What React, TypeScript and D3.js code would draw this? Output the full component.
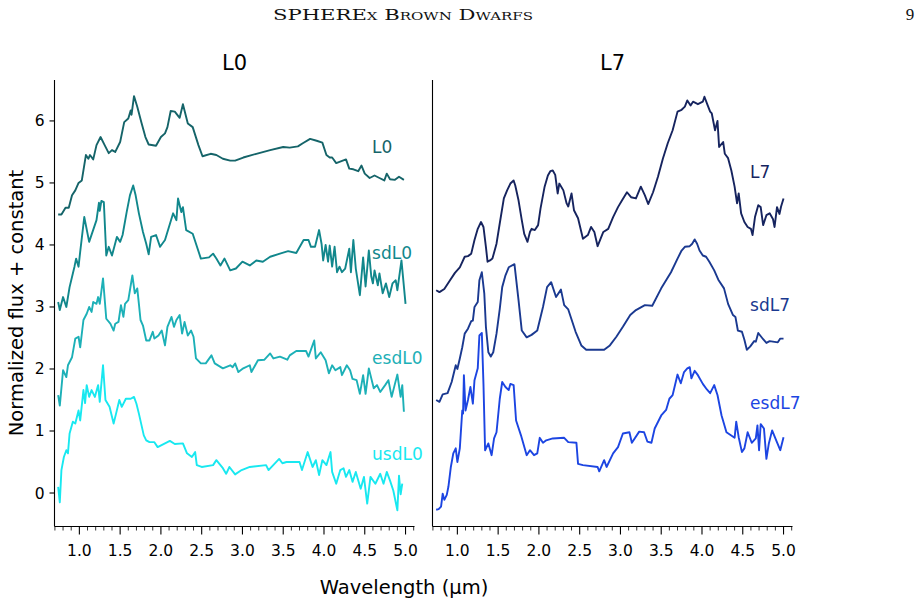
import React from "react";
import * as d3 from "d3";

// Spectra: [wavelength (µm), normalized flux + offset]
const L0: [number, number][] = [[0.74,4.49],[0.78,4.49],[0.83,4.6],[0.87,4.6],[0.91,4.8],[0.95,4.88],[0.99,5.0],[1.03,5.04],[1.08,5.45],[1.11,5.39],[1.13,5.45],[1.17,5.38],[1.21,5.61],[1.26,5.74],[1.31,5.61],[1.36,5.48],[1.4,5.53],[1.44,5.5],[1.5,5.66],[1.55,5.98],[1.6,6.04],[1.63,6.17],[1.64,6.1],[1.67,6.4],[1.71,6.23],[1.76,5.98],[1.81,5.74],[1.85,5.62],[1.94,5.6],[2.0,5.74],[2.05,5.8],[2.08,5.9],[2.12,6.16],[2.17,6.15],[2.23,6.05],[2.27,6.27],[2.33,5.96],[2.39,5.9],[2.46,5.61],[2.51,5.43],[2.61,5.47],[2.68,5.45],[2.76,5.39],[2.85,5.36],[2.91,5.36],[3.01,5.41],[3.17,5.47],[3.34,5.53],[3.5,5.58],[3.58,5.57],[3.68,5.59],[3.74,5.64],[3.83,5.71],[3.91,5.68],[3.98,5.65],[4.03,5.45],[4.07,5.41],[4.1,5.41],[4.15,5.32],[4.19,5.34],[4.27,5.38],[4.31,5.23],[4.36,5.22],[4.42,5.19],[4.46,5.28],[4.5,5.15],[4.56,5.08],[4.62,5.12],[4.68,5.08],[4.74,5.04],[4.77,5.15],[4.81,5.06],[4.87,5.05],[4.92,5.1],[4.98,5.05]];

const sdL0: [number, number][] = [[0.74,3.08],[0.76,2.95],[0.8,3.16],[0.84,3.0],[0.88,3.32],[0.92,3.54],[0.94,3.65],[0.96,3.78],[0.99,3.65],[1.01,3.89],[1.06,4.45],[1.12,4.05],[1.21,4.4],[1.24,4.68],[1.25,4.55],[1.27,4.71],[1.3,4.69],[1.33,3.83],[1.36,3.97],[1.4,3.83],[1.46,4.13],[1.5,4.05],[1.53,4.16],[1.58,4.53],[1.62,4.8],[1.66,4.96],[1.69,4.8],[1.73,4.51],[1.78,4.21],[1.82,4.02],[1.85,3.85],[1.88,4.13],[1.94,4.16],[1.99,3.97],[2.05,4.08],[2.15,4.51],[2.19,4.4],[2.21,4.75],[2.25,4.53],[2.27,4.61],[2.31,4.24],[2.39,4.18],[2.49,3.78],[2.59,3.8],[2.64,3.86],[2.68,3.78],[2.73,3.67],[2.78,3.78],[2.85,3.59],[2.92,3.62],[3.0,3.73],[3.09,3.67],[3.17,3.75],[3.25,3.73],[3.34,3.81],[3.46,3.86],[3.56,3.9],[3.66,3.87],[3.75,4.08],[3.81,4.08],[3.84,3.97],[3.89,3.97],[3.94,4.24],[3.97,4.02],[3.99,3.75],[4.02,4.0],[4.05,3.73],[4.07,3.99],[4.1,3.65],[4.13,3.97],[4.16,3.56],[4.19,3.65],[4.22,3.56],[4.26,3.62],[4.31,3.94],[4.33,3.56],[4.36,4.08],[4.39,3.62],[4.44,3.19],[4.48,3.8],[4.51,3.33],[4.55,3.91],[4.58,3.49],[4.6,3.38],[4.62,3.59],[4.66,3.35],[4.68,3.54],[4.72,3.22],[4.76,3.38],[4.8,3.16],[4.84,3.38],[4.88,3.43],[4.9,3.27],[4.95,3.75],[5.0,3.05]];

const esdL0: [number, number][] = [[0.74,1.58],[0.76,1.41],[0.8,1.98],[0.84,1.87],[0.86,2.06],[0.91,2.19],[0.95,2.49],[0.99,2.52],[1.01,2.35],[1.05,2.79],[1.09,2.89],[1.12,3.0],[1.15,2.92],[1.17,3.08],[1.21,3.05],[1.23,3.16],[1.25,3.05],[1.29,3.46],[1.33,2.81],[1.38,2.73],[1.42,2.62],[1.44,2.73],[1.48,2.76],[1.51,3.03],[1.54,2.84],[1.56,3.05],[1.6,3.11],[1.62,3.27],[1.65,3.51],[1.68,3.22],[1.71,3.3],[1.73,3.05],[1.75,2.79],[1.78,2.7],[1.82,2.46],[1.86,2.46],[1.9,2.6],[1.92,2.49],[1.97,2.54],[2.01,2.62],[2.05,2.38],[2.08,2.68],[2.13,2.84],[2.16,2.68],[2.19,2.79],[2.23,2.87],[2.26,2.57],[2.29,2.76],[2.33,2.54],[2.37,2.62],[2.4,2.52],[2.43,2.17],[2.49,2.09],[2.55,2.09],[2.62,2.22],[2.66,2.09],[2.76,2.01],[2.85,2.06],[2.88,2.03],[2.91,2.09],[2.95,1.95],[3.01,2.01],[3.09,2.06],[3.11,1.95],[3.19,2.14],[3.27,2.15],[3.34,2.25],[3.38,2.17],[3.46,2.2],[3.55,2.15],[3.58,2.22],[3.66,2.29],[3.78,2.29],[3.81,2.2],[3.88,2.46],[3.9,2.17],[3.96,2.27],[4.02,2.14],[4.06,1.93],[4.1,2.06],[4.14,1.98],[4.2,2.03],[4.22,1.9],[4.28,2.06],[4.32,1.98],[4.35,1.84],[4.4,1.82],[4.44,1.6],[4.48,1.9],[4.51,1.6],[4.55,2.01],[4.61,1.69],[4.65,1.74],[4.69,1.63],[4.75,1.74],[4.79,1.82],[4.83,1.55],[4.87,1.76],[4.9,1.91],[4.94,1.55],[4.96,1.74],[4.98,1.31]];

const usdL0: [number, number][] = [[0.74,0.1],[0.76,-0.15],[0.78,0.37],[0.81,0.58],[0.84,0.69],[0.86,0.64],[0.88,0.96],[0.92,1.15],[0.95,1.12],[0.99,1.33],[1.01,1.17],[1.05,1.66],[1.07,1.45],[1.09,1.74],[1.12,1.55],[1.15,1.66],[1.19,1.55],[1.23,1.74],[1.25,1.47],[1.29,2.06],[1.32,1.5],[1.37,1.39],[1.42,1.12],[1.45,1.28],[1.49,1.5],[1.52,1.39],[1.57,1.52],[1.63,1.52],[1.67,1.55],[1.7,1.44],[1.73,1.28],[1.79,0.93],[1.82,0.85],[1.86,0.82],[1.92,0.82],[1.96,0.74],[2.11,0.84],[2.17,0.79],[2.27,0.8],[2.32,0.64],[2.38,0.58],[2.42,0.66],[2.44,0.45],[2.5,0.42],[2.64,0.45],[2.68,0.53],[2.76,0.4],[2.8,0.31],[2.84,0.42],[2.91,0.3],[2.99,0.37],[3.09,0.42],[3.29,0.45],[3.32,0.37],[3.45,0.55],[3.49,0.48],[3.54,0.5],[3.7,0.5],[3.73,0.37],[3.8,0.66],[3.86,0.42],[3.9,0.53],[3.94,0.29],[3.98,0.53],[4.03,0.45],[4.08,0.66],[4.1,0.34],[4.15,0.15],[4.2,0.37],[4.24,0.4],[4.27,0.26],[4.31,0.37],[4.35,0.18],[4.39,0.34],[4.45,0.07],[4.49,0.26],[4.53,-0.17],[4.57,0.26],[4.63,0.15],[4.69,0.31],[4.73,0.15],[4.77,0.34],[4.81,0.2],[4.85,0.04],[4.9,-0.28],[4.92,0.28],[4.94,-0.02],[4.96,0.15]];

const L7: [number, number][] = [[0.74,3.27],[0.78,3.24],[0.84,3.29],[0.91,3.43],[0.97,3.55],[1.03,3.64],[1.09,3.81],[1.13,3.82],[1.17,3.86],[1.21,4.08],[1.25,4.26],[1.29,4.37],[1.32,4.29],[1.35,3.97],[1.37,3.73],[1.4,3.75],[1.43,3.78],[1.48,4.02],[1.52,4.35],[1.57,4.75],[1.61,4.88],[1.65,4.99],[1.69,5.04],[1.71,4.96],[1.75,4.72],[1.79,4.4],[1.82,4.18],[1.86,4.05],[1.89,4.21],[1.91,4.26],[1.95,4.24],[1.99,4.32],[2.02,4.59],[2.07,4.94],[2.11,5.12],[2.14,5.19],[2.17,5.2],[2.2,5.13],[2.23,4.83],[2.25,4.99],[2.3,4.88],[2.34,4.67],[2.36,4.62],[2.4,4.83],[2.43,4.56],[2.48,4.43],[2.54,4.1],[2.6,4.16],[2.64,4.29],[2.68,4.21],[2.72,3.98],[2.79,4.21],[2.85,4.26],[2.91,4.45],[2.97,4.61],[3.02,4.72],[3.08,4.85],[3.13,4.77],[3.19,4.75],[3.25,4.94],[3.3,4.8],[3.34,4.66],[3.4,4.85],[3.46,5.1],[3.52,5.39],[3.58,5.64],[3.64,5.85],[3.7,6.15],[3.75,6.18],[3.79,6.23],[3.82,6.33],[3.86,6.25],[3.89,6.31],[3.95,6.27],[4.01,6.31],[4.03,6.39],[4.07,6.25],[4.1,6.15],[4.12,6.12],[4.16,5.85],[4.19,6.0],[4.21,5.58],[4.26,5.66],[4.28,5.47],[4.32,5.4],[4.36,5.2],[4.4,4.94],[4.43,4.67],[4.45,4.83],[4.48,4.51],[4.52,4.37],[4.56,4.29],[4.6,4.26],[4.62,4.16],[4.65,4.45],[4.69,4.64],[4.72,4.61],[4.75,4.32],[4.79,4.48],[4.83,4.51],[4.87,4.42],[4.89,4.29],[4.92,4.61],[4.95,4.5],[4.97,4.62],[5.0,4.75]];

const sdL7: [number, number][] = [[0.74,1.5],[0.78,1.47],[0.82,1.59],[0.88,1.61],[0.93,1.79],[0.98,2.06],[1.0,2.0],[1.03,2.17],[1.06,2.35],[1.09,2.57],[1.13,2.65],[1.17,2.77],[1.19,2.78],[1.21,3.0],[1.25,3.08],[1.27,3.43],[1.3,3.56],[1.33,3.22],[1.35,2.68],[1.38,2.27],[1.41,2.2],[1.44,2.27],[1.48,2.57],[1.52,2.97],[1.55,3.32],[1.59,3.51],[1.63,3.64],[1.7,3.69],[1.75,3.11],[1.79,2.62],[1.85,2.51],[1.91,2.55],[1.98,2.62],[2.05,3.0],[2.1,3.32],[2.15,3.4],[2.21,3.16],[2.27,3.28],[2.31,3.03],[2.36,2.96],[2.45,2.6],[2.52,2.38],[2.58,2.31],[2.8,2.31],[2.87,2.38],[2.95,2.52],[3.03,2.68],[3.12,2.87],[3.19,2.95],[3.3,3.03],[3.39,3.02],[3.5,3.3],[3.62,3.56],[3.7,3.78],[3.75,3.91],[3.79,3.97],[3.85,3.98],[3.88,4.02],[3.91,4.09],[3.94,4.02],[3.97,3.91],[4.01,3.83],[4.05,3.81],[4.09,3.73],[4.15,3.59],[4.2,3.44],[4.27,3.3],[4.32,3.05],[4.38,2.87],[4.41,2.84],[4.44,2.62],[4.49,2.6],[4.52,2.47],[4.55,2.31],[4.59,2.36],[4.64,2.45],[4.66,2.44],[4.69,2.58],[4.75,2.48],[4.79,2.42],[4.83,2.45],[4.93,2.43],[4.96,2.49],[5.0,2.49]];

const esdL7: [number, number][] = [[0.74,-0.27],[0.77,-0.26],[0.8,-0.22],[0.82,-0.01],[0.84,-0.11],[0.87,-0.03],[0.89,0.1],[0.92,0.42],[0.95,0.64],[0.98,0.72],[1.0,0.5],[1.03,0.72],[1.06,1.33],[1.07,1.28],[1.08,1.9],[1.1,1.33],[1.13,1.5],[1.16,1.71],[1.19,1.44],[1.21,1.82],[1.25,2.01],[1.27,2.54],[1.3,2.58],[1.32,1.76],[1.34,0.69],[1.38,0.8],[1.42,0.61],[1.45,0.88],[1.48,0.98],[1.52,1.52],[1.55,1.79],[1.59,1.71],[1.63,1.66],[1.65,1.76],[1.69,1.74],[1.72,1.17],[1.78,0.93],[1.85,0.61],[1.89,0.69],[1.94,0.61],[1.98,0.64],[2.01,0.89],[2.05,0.81],[2.09,0.85],[2.17,0.88],[2.31,0.89],[2.36,0.82],[2.46,0.81],[2.48,0.47],[2.54,0.45],[2.72,0.42],[2.74,0.35],[2.8,0.53],[2.83,0.42],[2.91,0.64],[2.97,0.74],[3.03,0.96],[3.11,0.98],[3.14,0.81],[3.23,0.99],[3.29,0.98],[3.33,0.83],[3.38,0.81],[3.42,1.04],[3.5,1.25],[3.56,1.34],[3.6,1.52],[3.64,1.58],[3.7,1.91],[3.74,1.77],[3.78,1.95],[3.82,2.01],[3.85,2.03],[3.87,1.85],[3.91,1.97],[3.95,1.9],[4.01,1.76],[4.06,1.67],[4.1,1.61],[4.15,1.74],[4.19,1.58],[4.24,1.25],[4.3,0.98],[4.4,0.89],[4.42,1.15],[4.45,0.9],[4.49,0.66],[4.52,0.72],[4.56,0.98],[4.61,0.81],[4.66,0.88],[4.68,1.09],[4.7,0.69],[4.72,1.11],[4.76,1.04],[4.79,0.55],[4.82,0.8],[4.86,1.01],[4.91,0.85],[4.96,0.69],[5.0,0.9]];

const PANEL_TITLES = ["L0", "L7"];
const LEFT_NAMES = ["L0", "sdL0", "esdL0", "usdL0"];
const LEFT_DATA = [L0, sdL0, esdL0, usdL0];
const LEFT_COLORS = ["#156469", "#11878c", "#1cb0b7", "#18e8f0"];
const LEFT_LABEL_Y = [5.48, 3.78, 2.08, 0.53];
const RIGHT_NAMES = ["L7", "sdL7", "esdL7"];
const RIGHT_DATA = [L7, sdL7, esdL7];
const RIGHT_COLORS = ["#16245f", "#1a3990", "#1c45e2"];
const RIGHT_LABEL_Y = [5.08, 2.94, 1.35];
const LABEL_X = 4.59;

const X_TICKS = [1.0, 1.5, 2.0, 2.5, 3.0, 3.5, 4.0, 4.5, 5.0];
const Y_TICKS = [0, 1, 2, 3, 4, 5, 6];

const W = 921;
const H = 605;
const TOP = 80;
const BOTTOM = 526.5;
const FONT = "'DejaVu Sans', sans-serif";

const yScale = d3.scaleLinear().domain([-0.54, 6.66]).range([BOTTOM, TOP]);

function Panel({
  x0,
  title,
  names,
  data,
  colors,
  labelY,
  showYTicks,
}: {
  x0: number;
  title: string;
  names: string[];
  data: [number, number][][];
  colors: string[];
  labelY: number[];
  showYTicks: boolean;
}) {
  const x = d3.scaleLinear().domain([0.695, 5.11]).range([x0, x0 + 360]);
  const line = d3
    .line<[number, number]>()
    .x((d) => x(d[0]))
    .y((d) => yScale(d[1]));
  const minor = d3.range(7, 52).map((v) => v / 10).filter((v) => Math.abs(v * 2 - Math.round(v * 2)) > 1e-6);

  return (
    <g>
      <text x={x0 + 180} y={70} textAnchor="middle" fontSize={21} fontFamily={FONT} fill="#000">
        {title}
      </text>
      {data.map((s, i) => (
        <path key={names[i]} d={line(s) ?? ""} fill="none" stroke={colors[i]} strokeWidth={1.9} strokeLinejoin="round" />
      ))}
      {names.map((n, i) => (
        <text key={n} x={x(LABEL_X)} y={yScale(labelY[i])} fontSize={17} fontFamily={FONT} fill={colors[i]}>
          {n}
        </text>
      ))}
      <line x1={x0} x2={x0} y1={TOP} y2={BOTTOM} stroke="#000" strokeWidth={1.1} />
      <line x1={x0} x2={x0 + 360} y1={BOTTOM} y2={BOTTOM} stroke="#000" strokeWidth={1.1} />
      {minor.map((t) => (
        <line key={"m" + t} x1={x(t)} x2={x(t)} y1={BOTTOM} y2={BOTTOM + 4} stroke="#000" strokeWidth={0.8} />
      ))}
      {X_TICKS.map((t) => (
        <g key={"x" + t}>
          <line x1={x(t)} x2={x(t)} y1={BOTTOM} y2={BOTTOM + 8} stroke="#000" strokeWidth={1.1} />
          <text x={x(t)} y={556} textAnchor="middle" fontSize={15.5} fontFamily={FONT} fill="#000">
            {t.toFixed(1)}
          </text>
        </g>
      ))}
      {showYTicks &&
        Y_TICKS.map((t) => (
          <g key={"y" + t}>
            <line x1={x0 - 5} x2={x0} y1={yScale(t)} y2={yScale(t)} stroke="#000" strokeWidth={1.1} />
            <text x={x0 - 10} y={yScale(t) + 5.5} textAnchor="end" fontSize={15.5} fontFamily={FONT} fill="#000">
              {t}
            </text>
          </g>
        ))}
    </g>
  );
}

export default function App() {
  return (
    <svg
      width={W}
      height={H}
      viewBox={`0 0 ${W} ${H}`}
      style={{ position: "absolute", left: 0, top: 0, background: "#fff" }}
    >
      <rect width={W} height={H} fill="#fff" />
      <text
        x={403}
        y={20}
        textAnchor="middle"
        fontSize={15.5}
        fontFamily="'DejaVu Serif', 'Liberation Serif', serif"
        style={{ fontVariant: "small-caps" }}
        textLength={260}
        lengthAdjust="spacingAndGlyphs"
        fill="#111"
      >
        SPHEREx Brown Dwarfs
      </text>
      <text x={910} y={20} textAnchor="middle" fontSize={17} fontFamily="'Liberation Serif', serif" fill="#111">
        9
      </text>
      <Panel
        x0={54.5}
        title={PANEL_TITLES[0]}
        names={LEFT_NAMES}
        data={LEFT_DATA}
        colors={LEFT_COLORS}
        labelY={LEFT_LABEL_Y}
        showYTicks={true}
      />
      <Panel
        x0={432.5}
        title={PANEL_TITLES[1]}
        names={RIGHT_NAMES}
        data={RIGHT_DATA}
        colors={RIGHT_COLORS}
        labelY={RIGHT_LABEL_Y}
        showYTicks={false}
      />
      <text
        transform={`translate(23,303) rotate(-90)`}
        textAnchor="middle"
        fontSize={19.5}
        fontFamily={FONT}
        fill="#000"
      >
        Normalized flux + constant
      </text>
      <text x={404} y={594} textAnchor="middle" fontSize={19.5} fontFamily={FONT} fill="#000">
        Wavelength (µm)
      </text>
    </svg>
  );
}
